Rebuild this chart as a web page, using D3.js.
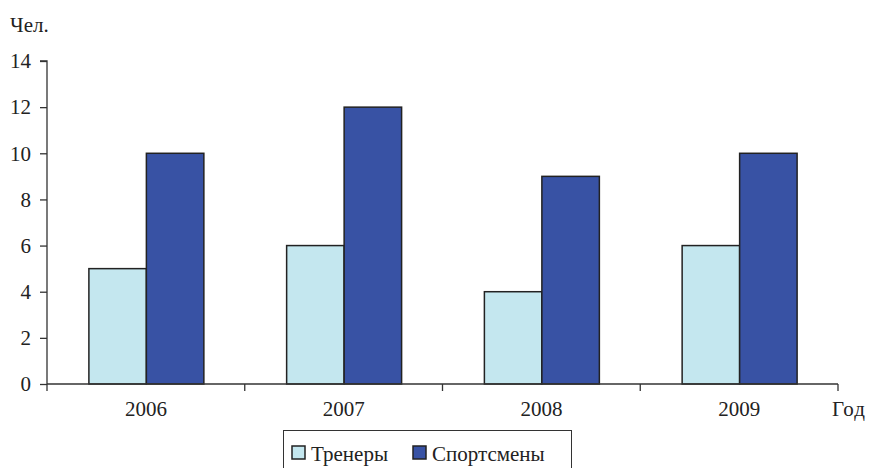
<!DOCTYPE html>
<html><head><meta charset="utf-8">
<script src="https://cdn.jsdelivr.net/npm/d3@7/dist/d3.min.js"></script>
<style>body{margin:0;background:#fff}svg{display:block}</style>
</head><body><svg id="c" width="874" height="468"></svg>
<script>
const years = ["2006","2007","2008","2009"];
const seriesNames = ["Тренеры","Спортсмены"];
const trainers = [5,6,4,6];
const athletes = [10,12,9,10];
const yTicks = [0,2,4,6,8,10,12,14];
const colors = ["#c4e7ef","#3852a4"];
const FONT = "Liberation Serif";
const FS = 21;

const svg = d3.select("#c");
const m = {l:47, r:838, t:61, b:384};
const x = d3.scaleBand().domain(years).range([m.l, m.r]).paddingInner(0).paddingOuter(0);
const y = d3.scaleLinear().domain([0,14]).range([m.b, m.t]);
const xs = d3.scaleBand().domain(seriesNames).range([0, x.bandwidth()]).paddingInner(0).paddingOuter(0.72);

const data = years.map((yr,i)=>({year:yr, vals:[trainers[i], athletes[i]]}));

svg.selectAll("g.grp").data(data).join("g").attr("class","grp")
 .attr("transform", d=>`translate(${x(d.year)+0.5},0)`)
 .selectAll("rect").data(d=>d.vals.map((v,j)=>({v,j})))
 .join("rect")
 .attr("x", d=>xs(seriesNames[d.j]))
 .attr("width", xs.bandwidth())
 .attr("y", d=>y(d.v))
 .attr("height", d=>y(0)-y(d.v))
 .attr("fill", d=>colors[d.j])
 .attr("stroke","#222").attr("stroke-width",1.5);

// y axis
const ya = svg.append("g").attr("transform",`translate(${m.l},0)`)
 .call(d3.axisLeft(y).tickValues(yTicks).tickSize(7).tickPadding(9).tickFormat(d3.format("d")));
ya.attr("font-family", FONT).attr("font-size", FS);
ya.select(".domain").attr("stroke","#333").attr("stroke-width",1.3).attr("d",`M-7,${m.t}H0V${m.b}`);
ya.selectAll(".tick line").attr("stroke","#333").attr("stroke-width",1.3);
ya.selectAll(".tick text").attr("fill","#222");

// x axis
const xa = svg.append("g").attr("transform",`translate(0,${m.b})`);
xa.append("line").attr("x1",m.l).attr("x2",m.r).attr("stroke","#333").attr("stroke-width",1.3);
const bounds = years.map(d=>x(d)).concat([m.r]);
xa.selectAll("line.tk").data(bounds).join("line").attr("class","tk")
 .attr("x1",d=>d).attr("x2",d=>d).attr("y1",0).attr("y2",7).attr("stroke","#333").attr("stroke-width",1.3);
xa.selectAll("text.yl").data(years).join("text").attr("class","yl")
 .attr("x",d=>x(d)+x.bandwidth()/2).attr("y",32).attr("text-anchor","middle")
 .attr("font-family",FONT).attr("font-size",FS).attr("fill","#222").text(d=>d);

svg.append("text").attr("x",10).attr("y",32).attr("font-family",FONT).attr("font-size",FS).attr("fill","#222").text("Чел.");
svg.append("text").attr("x",832).attr("y",416).attr("font-family",FONT).attr("font-size",FS).attr("fill","#222").attr("letter-spacing",1).text("Год");

// legend
const lg = svg.append("g");
lg.append("rect").attr("x",283.5).attr("y",430.5).attr("width",288).attr("height",40)
 .attr("fill","none").attr("stroke","#333").attr("stroke-width",1);
const lx = [292, 413];
seriesNames.forEach((s,i)=>{
  lg.append("rect").attr("x",lx[i]).attr("y",446).attr("width",13).attr("height",13)
   .attr("fill",colors[i]).attr("stroke","#222").attr("stroke-width",1.5);
  lg.append("text").attr("x",lx[i]+19).attr("y",461).attr("font-family",FONT).attr("font-size",FS).attr("fill","#222").text(s);
});
</script></body></html>
